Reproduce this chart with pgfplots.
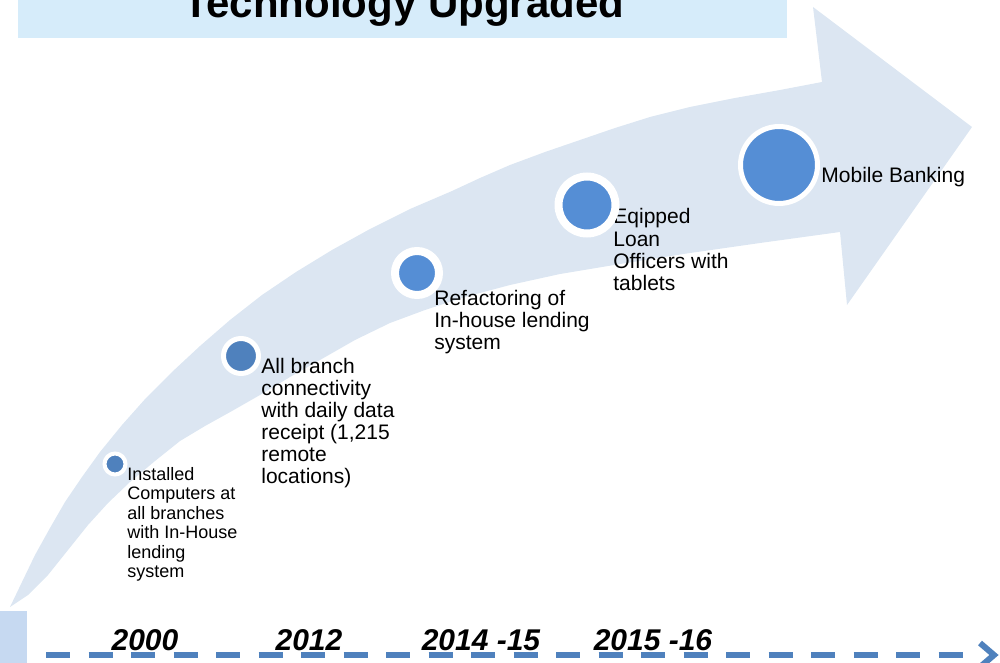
\documentclass[border=0pt]{standalone}
\usepackage{pgfplots}
\pgfplotsset{compat=1.18}
\usepackage{fontspec}
\setmainfont{Liberation Sans}
\definecolor{arrowc}{RGB}{220,230,242}
\definecolor{titlec}{RGB}{214,236,250}
\definecolor{leftc}{RGB}{198,217,241}
\definecolor{dotA}{RGB}{79,129,189}
\definecolor{dotB}{RGB}{85,142,213}
\definecolor{dashc}{RGB}{79,129,189}
\begin{document}
\begin{tikzpicture}
\useasboundingbox (0,0) rectangle (500pt,331.5pt);
\clip (0,0) rectangle (500pt,331.5pt);
\begin{axis}[at={(0,0)}, anchor=south west, scale only axis,
  width=500pt, height=331.5pt,
  xmin=0, xmax=1000, ymin=0, ymax=663, y dir=reverse,
  axis lines=none, ticks=none, clip=true]
% title box
\addplot[fill=titlec, draw=none] coordinates {(18,-5) (787,-5) (787,38) (18,38)} -- cycle;
% left box
\addplot[fill=leftc, draw=none] coordinates {(-5,611) (27,611) (27,670) (-5,670)} -- cycle;
% curved arrow
\addplot[fill=arrowc, draw=none] coordinates {
 (10,607) (22,582) (35,555) (50,528) (65,502) (82,477) (100,452) (122,425)
 (146,398) (172,372) (200,346) (230,320) (262,295) (296,272) (332,250)
 (370,229) (410,209) (452,191) (480,178) (510,165) (545,152) (580,140)
 (615,128) (650,117) (690,107) (735,98) (780,90) (822,82)
 (813,7) (972,127) (847,305) (840,232)
 (760,243) (690,253) (620,264) (560,274) (510,285) (465,297) (425,310)
 (390,323) (355,340) (320,360) (290,377) (260,395) (232,411) (205,426)
 (180,441) (155,461) (130,482) (108,503) (88,525) (68,550) (48,575) (28,595)} -- cycle;
% timeline
\addplot[draw=dashc, line width=3pt, dash pattern=on 12pt off 9.25pt] coordinates {(46,655) (962.5,655)};
\addplot[draw=dashc, line width=3pt, miter limit=10] coordinates {(980,643) (994,655) (980,667)};
% milestones
\addplot[only marks, mark=*, mark size=5.25pt, mark options={fill=dotA, draw=white, line width=2pt}] coordinates {(115,464)};
\addplot[only marks, mark=*, mark size=8.75pt, mark options={fill=dotA, draw=white, line width=2.5pt}] coordinates {(241,356)};
\addplot[only marks, mark=*, mark size=11pt, mark options={fill=dotB, draw=white, line width=4pt}] coordinates {(417,273)};
\addplot[only marks, mark=*, mark size=14.25pt, mark options={fill=dotB, draw=white, line width=4pt}] coordinates {(587,205)};
\addplot[only marks, mark=*, mark size=19.25pt, mark options={fill=dotB, draw=white, line width=2.5pt}] coordinates {(779,165)};
% title
\node[anchor=base, inner sep=0, font=\bfseries\fontsize{21}{25}\selectfont] at (axis cs:404,18) {Technology Upgraded};
% years
\node[anchor=base, inner sep=0, font=\bfseries\itshape\fontsize{15}{18}\selectfont] at (axis cs:145,650) {2000};
\node[anchor=base, inner sep=0, font=\bfseries\itshape\fontsize{15}{18}\selectfont] at (axis cs:309,650) {2012};
\node[anchor=base, inner sep=0, font=\bfseries\itshape\fontsize{15}{18}\selectfont] at (axis cs:481,650) {2014 -15};
\node[anchor=base, inner sep=0, font=\bfseries\itshape\fontsize{15}{18}\selectfont] at (axis cs:653,650) {2015 -16};
% labels: installed
\node[anchor=base west, inner sep=0, font=\fontsize{9}{10}\selectfont] at (axis cs:127,480) {Installed};
\node[anchor=base west, inner sep=0, font=\fontsize{9}{10}\selectfont] at (axis cs:127,499.5) {Computers at};
\node[anchor=base west, inner sep=0, font=\fontsize{9}{10}\selectfont] at (axis cs:127,519) {all branches};
\node[anchor=base west, inner sep=0, font=\fontsize{9}{10}\selectfont] at (axis cs:127,538.5) {with In-House};
\node[anchor=base west, inner sep=0, font=\fontsize{9}{10}\selectfont] at (axis cs:127,558) {lending};
\node[anchor=base west, inner sep=0, font=\fontsize{9}{10}\selectfont] at (axis cs:127,577.5) {system};
% all branch
\node[anchor=base west, inner sep=0, font=\fontsize{10.5}{11}\selectfont] at (axis cs:261,373) {All branch};
\node[anchor=base west, inner sep=0, font=\fontsize{10.5}{11}\selectfont] at (axis cs:261,395) {connectivity};
\node[anchor=base west, inner sep=0, font=\fontsize{10.5}{11}\selectfont] at (axis cs:261,417) {with daily data};
\node[anchor=base west, inner sep=0, font=\fontsize{10.5}{11}\selectfont] at (axis cs:261,439) {receipt (1,215};
\node[anchor=base west, inner sep=0, font=\fontsize{10.5}{11}\selectfont] at (axis cs:261,461) {remote};
\node[anchor=base west, inner sep=0, font=\fontsize{10.5}{11}\selectfont] at (axis cs:261,483) {locations)};
% refactoring
\node[anchor=base west, inner sep=0, font=\fontsize{10.5}{11}\selectfont] at (axis cs:434,305) {Refactoring of};
\node[anchor=base west, inner sep=0, font=\fontsize{10.5}{11}\selectfont] at (axis cs:434,327) {In-house lending};
\node[anchor=base west, inner sep=0, font=\fontsize{10.5}{11}\selectfont] at (axis cs:434,349) {system};
% eqipped
\node[anchor=base west, inner sep=0, font=\fontsize{10.5}{11}\selectfont] at (axis cs:613,224) {Eqipped};
\node[anchor=base west, inner sep=0, font=\fontsize{10.5}{11}\selectfont] at (axis cs:613,246) {Loan};
\node[anchor=base west, inner sep=0, font=\fontsize{10.5}{11}\selectfont] at (axis cs:613,268) {Officers with};
\node[anchor=base west, inner sep=0, font=\fontsize{10.5}{11}\selectfont] at (axis cs:613,290) {tablets};
% mobile
\node[anchor=base west, inner sep=0, font=\fontsize{10.5}{11}\selectfont] at (axis cs:821,183) {Mobile Banking};
\end{axis}
\end{tikzpicture}
\end{document}
